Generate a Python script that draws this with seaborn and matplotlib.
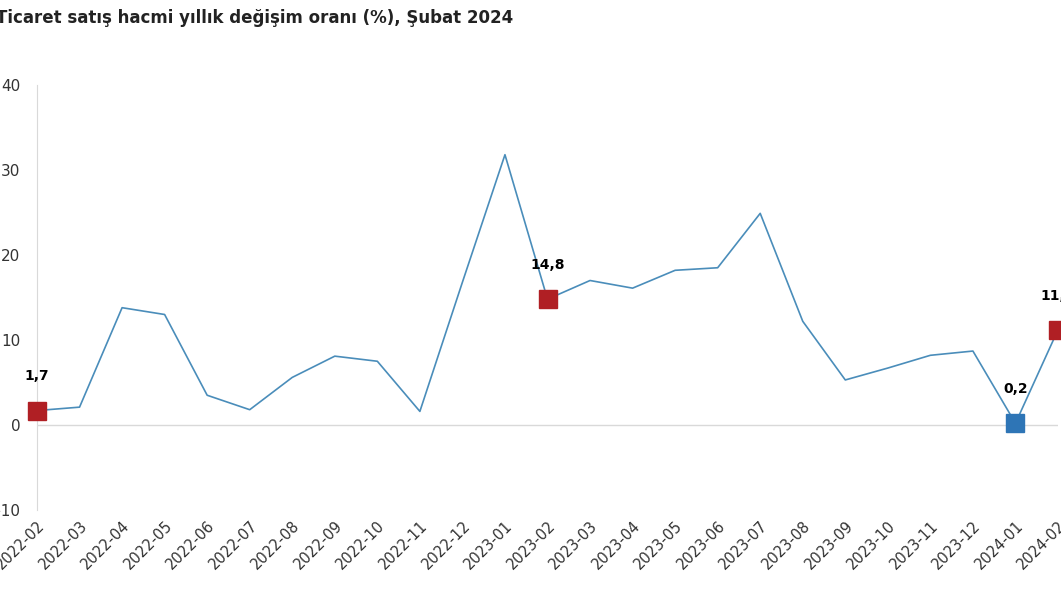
import matplotlib
matplotlib.use("Agg")
import matplotlib.pyplot as plt
import seaborn as sns
import pandas as pd

months = ["2022-02","2022-03","2022-04","2022-05","2022-06","2022-07","2022-08","2022-09","2022-10","2022-11","2022-12",
          "2023-01","2023-02","2023-03","2023-04","2023-05","2023-06","2023-07","2023-08","2023-09","2023-10","2023-11","2023-12",
          "2024-01","2024-02"]
values = [1.7,2.1,13.8,13.0,3.5,1.8,5.6,8.1,7.5,1.6,16.8,31.8,14.8,17.0,16.1,18.2,18.5,24.9,12.2,5.3,6.7,8.2,8.7,0.2,11.2]
highlight = {"2022-02":"#B01F24","2023-02":"#B01F24","2024-02":"#B01F24","2024-01":"#2E75B6"}
labels = {"2022-02":"1,7","2023-02":"14,8","2024-02":"11,2","2024-01":"0,2"}

df = pd.DataFrame({"x": range(len(months)), "v": values})
fig = plt.figure(figsize=(10.61,5.97), dpi=100)
ax = fig.add_axes([37/1061, 1-510/597, (1058-37)/1061, 425/597])
sns.lineplot(data=df, x="x", y="v", ax=ax, color="#4A8DBA", linewidth=1.2)
for i, m in enumerate(months):
    if m in highlight:
        ax.plot(i, values[i], marker="s", markersize=13, color=highlight[m], clip_on=False, zorder=5)
        ax.text(i, values[i]+3.2, labels[m], ha="center", va="bottom", fontsize=10, fontweight="bold", clip_on=False)
ax.set_xlim(0, len(months)-1)
ax.set_ylim(-10, 40)
ax.set_yticks([-10,0,10,20,30,40])
ax.set_xticks(range(len(months)))
ax.set_xticklabels(months, rotation=45, ha="right", rotation_mode="anchor", fontsize=10.5, color="#333333")
ax.tick_params(axis="y", labelsize=11, colors="#333333", length=0, pad=12)
ax.tick_params(axis="x", length=0, pad=6)
ax.axhline(0, color="#D9D9D9", linewidth=1, zorder=0)
for s in ["top","right","bottom"]:
    ax.spines[s].set_visible(False)
ax.spines["left"].set_color("#D9D9D9")
ax.set_xlabel(""); ax.set_ylabel("")
fig.text(-0.004, 0.97, "Ticaret satış hacmi yıllık değişim oranı (%), Şubat 2024", fontsize=12, fontweight="bold", va="center", color="#222222")
fig.savefig("out.png", dpi=100)
